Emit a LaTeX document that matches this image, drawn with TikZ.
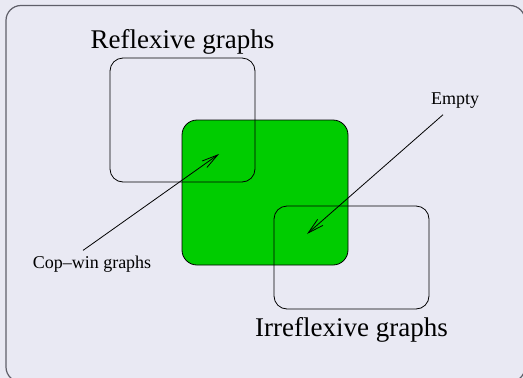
\documentclass[tikz,border=0pt]{standalone}
\usepackage{fontspec}
\setmainfont{Liberation Serif}
\usetikzlibrary{arrows.meta,positioning}
\definecolor{blockbg}{RGB}{233,233,243}
\definecolor{copgreen}{RGB}{0,204,0}
\definecolor{framegray}{RGB}{95,95,105}
\begin{document}
\begin{tikzpicture}[x=1pt,y=-1pt, line width=0.8pt,
  set/.style={draw,rounded corners=13pt,inner sep=0pt},
  big/.style={font=\fontsize{27}{30}\selectfont,inner sep=0pt},
  small/.style={font=\fontsize{18}{20}\selectfont,inner sep=0pt},
  >={Straight Barb[length=16pt,width=8pt]}]
\useasboundingbox (0,0) rectangle (523,378);
\clip (0,0) rectangle (523,378);
\fill[blockbg] (0,0) rectangle (523,378);
\draw[framegray,line width=1.2pt,rounded corners=15pt] (6,5.5) rectangle (525,382);
\node[set,fill=copgreen,rounded corners=15pt,minimum width=166pt,minimum height=145pt] (cop) at (265,192.5) {};
\node[set,minimum width=145pt,minimum height=124pt] (refl) at (182.5,120) {};
\node[set,minimum width=155pt,minimum height=103pt] (irrefl) at (351.5,257.5) {};
\node[big,above=3pt of refl] (refllabel) {Reflexive graphs};
\node[big,below=8pt of irrefl] (irrefllabel) {Irreflexive graphs};
\node[small] (empty) at (455,100.5) {Empty};
\node[small] (copwin) at (92,264) {Cop--win graphs};
\coordinate (copin) at (219,154);
\coordinate (emptyin) at (307,234);
\draw[->] ([xshift=-9pt,yshift=5pt]copwin.north) -- (copin);
\draw[->] ([xshift=-12pt,yshift=-6pt]empty.south) -- (emptyin);
\end{tikzpicture}
\end{document}
